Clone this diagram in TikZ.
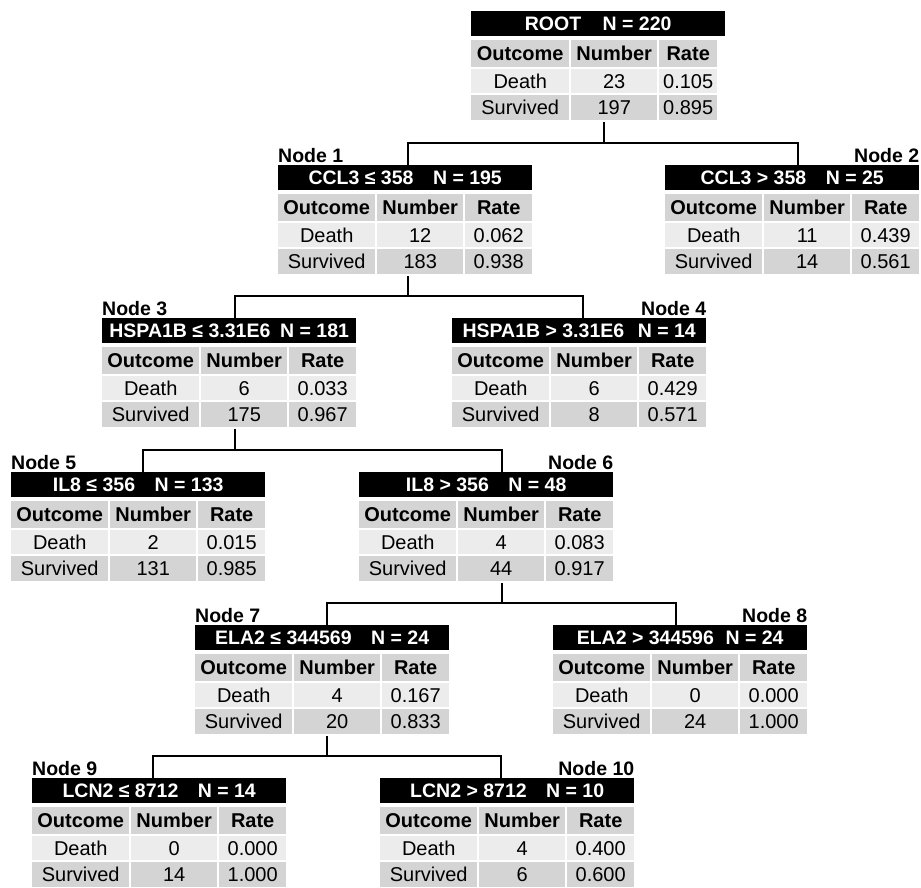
\documentclass[tikz,border=0pt]{standalone}
\usepackage{fontspec}
\setmainfont{Liberation Sans}
\definecolor{hdr}{gray}{0.83}
\definecolor{dth}{gray}{0.925}
\tikzset{
 bar/.style={fill=black, text=white, font=\fontsize{19.5}{20}\selectfont\bfseries, minimum width=254pt, minimum height=25pt, inner sep=0pt, text height=14pt, text depth=0pt, anchor=north west},
 cell/.style={minimum height=#1, inner sep=0pt, text height=14pt, text depth=0pt, anchor=north west, font=\fontsize{20}{22}\selectfont},
 hcell/.style={cell=27pt, fill=hdr, font=\fontsize{20}{22}\selectfont\bfseries},
 dcell/.style={cell=24pt, fill=dth},
 scell/.style={cell=25pt, fill=hdr},
 lbl/.style={font=\fontsize{19.5}{20}\selectfont\bfseries, inner sep=0pt},
 conn/.style={line width=2pt, black},
}
\def\wa{97}\def\wb{86}\def\wc{67}
\newcommand{\tnode}[9]{%
 \node[bar] (#1) at (#2,#3) {#5};
 \node[hcell, minimum width=\wa pt] (#1-h1) at (#2,#3+29) {Outcome};
 \node[hcell, minimum width=\wb pt] (#1-h2) at (#2+\wa+2,#3+29) {Number};
 \node[hcell, minimum width=\wc pt] (#1-h3) at (#2+\wa+\wb+4,#3+29) {Rate};
 \node[dcell, minimum width=\wa pt] (#1-d1) at (#2,#3+58) {Death};
 \node[dcell, minimum width=\wb pt] (#1-d2) at (#2+\wa+2,#3+58) {#6};
 \node[dcell, minimum width=\wc pt] (#1-d3) at (#2+\wa+\wb+4,#3+58) {#7};
 \node[scell, minimum width=\wa pt] (#1-s1) at (#2,#3+84) {Survived};
 \node[scell, minimum width=\wb pt] (#1-s2) at (#2+\wa+2,#3+84) {#8};
 \node[scell, minimum width=\wc pt] (#1-s3) at (#2+\wa+\wb+4,#3+84) {#9};
 \coordinate (#1-in) at (#4,#3);
 \coordinate (#1-el) at (#4,#3-22);
 \coordinate (#1-out) at (#4,#3+111);
}
\begin{document}
\begin{tikzpicture}[x=1pt,y=-1pt]
\useasboundingbox (0,0) rectangle (921,887);
\def\wa{98}\def\wb{86}\def\wc{58}
\tnode{root}{471}{11}{604}{ROOT\hspace{1.1em}N = 220}{23}{0.105}{197}{0.895}
\def\wa{97}\def\wb{86}\def\wc{67}
\tnode{n1}{278}{165}{408}{CCL3 ≤ 358\hspace{1em}N = 195}{12}{0.062}{183}{0.938}
\tnode{n2}{665}{165}{798}{CCL3 > 358\hspace{1em}N = 25}{11}{0.439}{14}{0.561}
\tnode{n3}{102}{318}{235}{HSPA1B ≤ 3.31E6\hspace{0.5em}N = 181}{6}{0.033}{175}{0.967}
\tnode{n4}{452}{318}{583}{HSPA1B > 3.31E6\hspace{0.7em}N = 14}{6}{0.429}{8}{0.571}
\tnode{n5}{11}{472}{143}{IL8 ≤ 356\hspace{1em}N = 133}{2}{0.015}{131}{0.985}
\tnode{n6}{359}{472}{502}{IL8 > 356\hspace{1em}N = 48}{4}{0.083}{44}{0.917}
\tnode{n7}{195}{625}{327}{ELA2 ≤ 344569\hspace{1em}N = 24}{4}{0.167}{20}{0.833}
\tnode{n8}{553}{625}{676}{ELA2 > 344596\hspace{0.6em}N = 24}{0}{0.000}{24}{1.000}
\tnode{n9}{32}{778}{153}{LCN2 ≤ 8712\hspace{1em}N = 14}{0}{0.000}{14}{1.000}
\tnode{n10}{380}{778}{501}{LCN2 > 8712\hspace{1em}N = 10}{4}{0.400}{6}{0.600}
% labels
\node[lbl, anchor=base west, yshift=3pt] (l1) at (n1.north west) {Node 1};
\node[lbl, anchor=base east, yshift=3pt] (l2) at (n2.north east) {Node 2};
\node[lbl, anchor=base west, yshift=3pt] (l3) at (n3.north west) {Node 3};
\node[lbl, anchor=base east, yshift=3pt] (l4) at (n4.north east) {Node 4};
\node[lbl, anchor=base west, yshift=3pt] (l5) at (n5.north west) {Node 5};
\node[lbl, anchor=base east, yshift=3pt] (l6) at (n6.north east) {Node 6};
\node[lbl, anchor=base west, yshift=3pt] (l7) at (n7.north west) {Node 7};
\node[lbl, anchor=base east, yshift=3pt] (l8) at (n8.north east) {Node 8};
\node[lbl, anchor=base west, yshift=3pt] (l9) at (n9.north west) {Node 9};
\node[lbl, anchor=base east, yshift=3pt] (l10) at (n10.north east) {Node 10};
% connectors
\draw[conn] (root-out) -- (root-out |- n1-el);
\draw[conn] (n1-in) -- (n1-el) -- (n2-el) -- (n2-in);
\draw[conn] (n1-out) -- (n1-out |- n3-el);
\draw[conn] (n3-in) -- (n3-el) -- (n4-el) -- (n4-in);
\draw[conn] (n3-out) -- (n3-out |- n5-el);
\draw[conn] (n5-in) -- (n5-el) -- (n6-el) -- (n6-in);
\draw[conn] (n6-out) -- (n6-out |- n7-el);
\draw[conn] (n7-in) -- (n7-el) -- (n8-el) -- (n8-in);
\draw[conn] (n7-out) -- (n7-out |- n9-el);
\draw[conn] (n9-in) -- (n9-el) -- (n10-el) -- (n10-in);
\end{tikzpicture}
\end{document}
